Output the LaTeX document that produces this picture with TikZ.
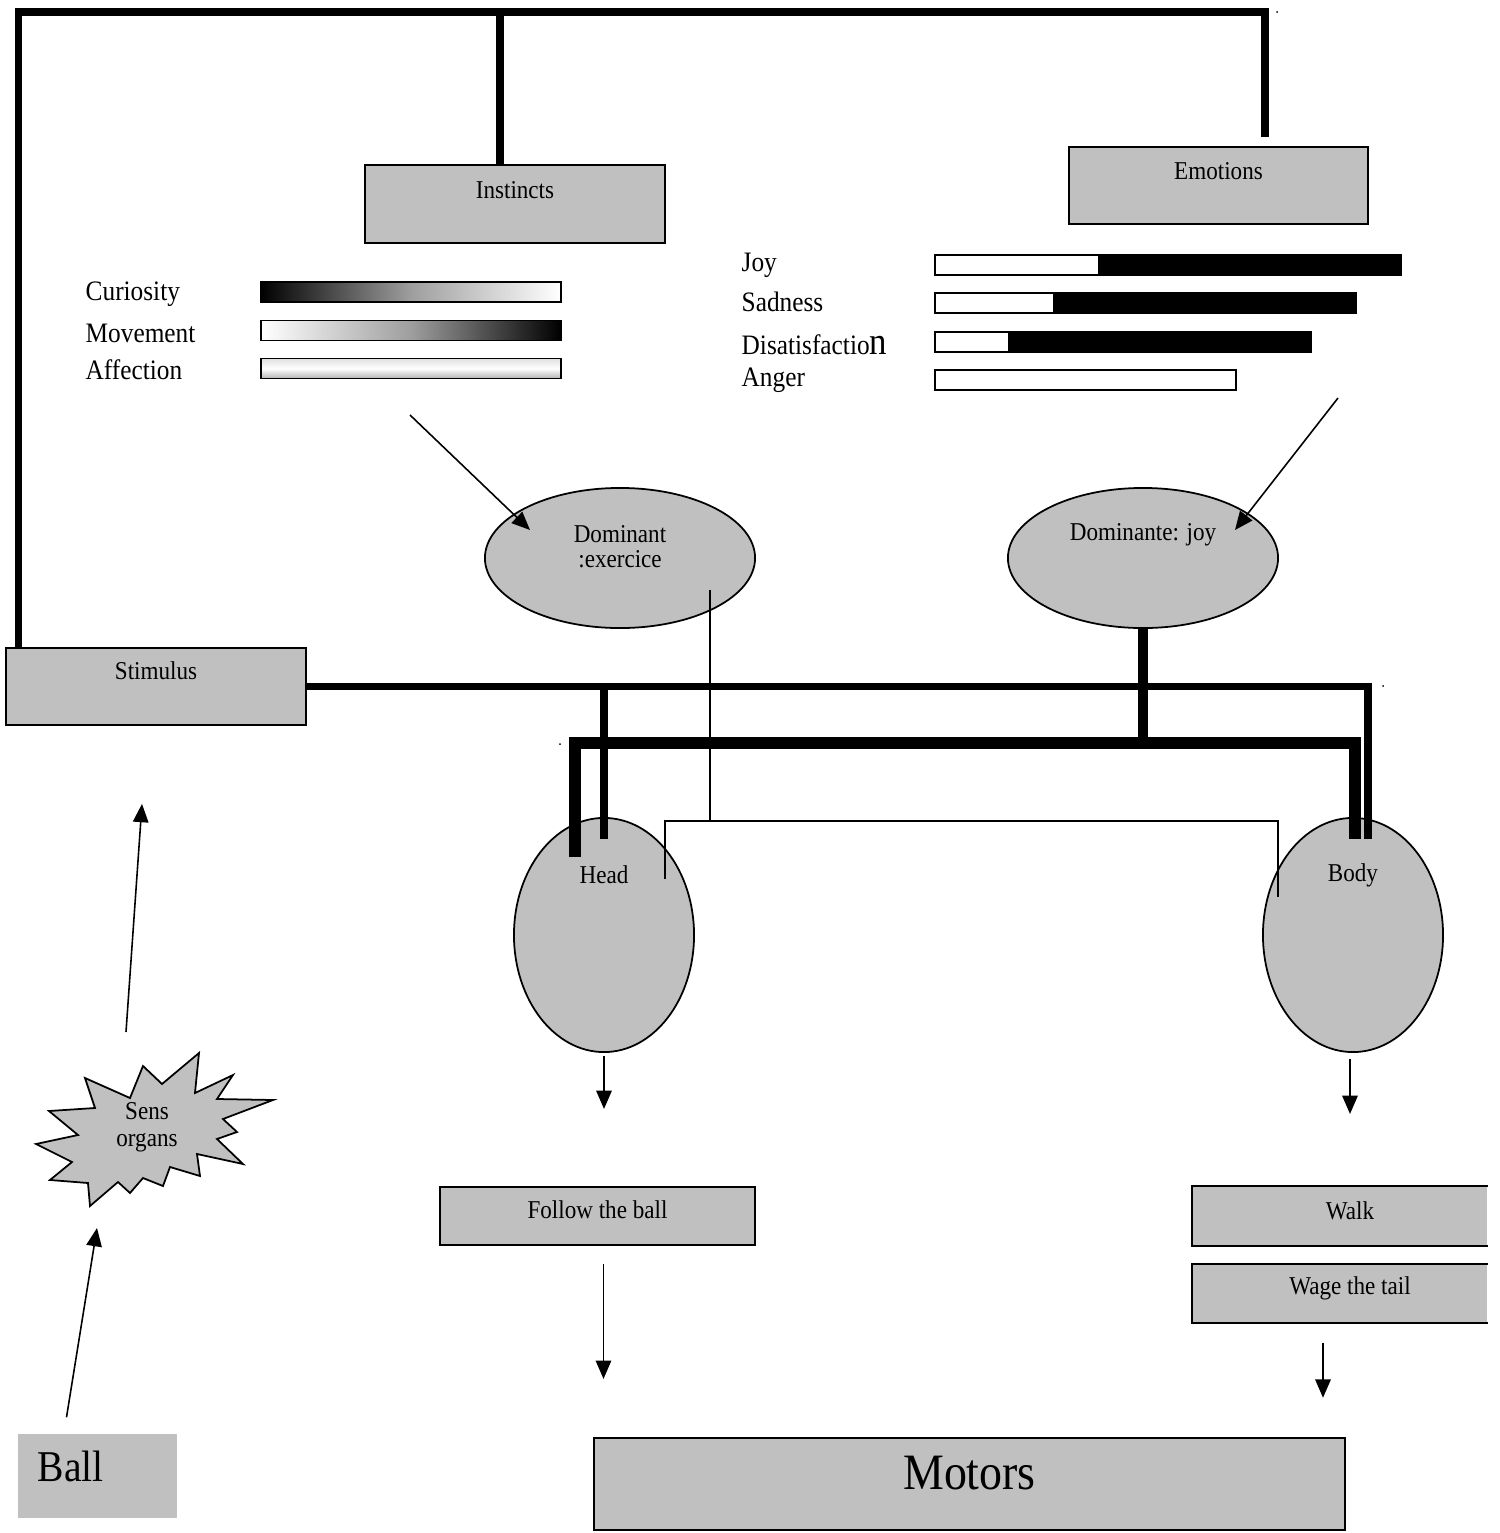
\documentclass[tikz,border=0pt]{standalone}
\usepackage{fontspec}
\setmainfont{Liberation Serif}[FakeStretch=0.9]
\usetikzlibrary{arrows.meta,calc,shapes.geometric}
\definecolor{boxgray}{HTML}{C0C0C0}
\tikzset{
  gbox/.style={draw=black, line width=0.5pt, fill=boxgray, inner sep=0pt},
  fbox/.style={fill=boxgray, inner sep=0pt},
  gell/.style={ellipse, draw=black, line width=0.5pt, fill=boxgray, inner sep=0pt},
  lbl/.style={inner sep=0pt, align=center, font=\fontsize{7.3}{7.2}\selectfont},
  side/.style={inner sep=0pt, anchor=west, font=\fontsize{8}{9}\selectfont},
  wire/.style={line width=2pt},
  wirebig/.style={line width=3.3pt},
  wiremid/.style={line width=2.8pt},
  thinline/.style={line width=0.45pt},
  arr/.style={line width=0.45pt, -{Triangle[length=5.2pt,width=4.4pt]}},
  barbox/.style={draw=black, line width=0.45pt, inner sep=0pt, minimum height=0.2cm, anchor=west},
}
\begin{document}
\begin{tikzpicture}[x=0.01cm, y=-0.01cm]
\useasboundingbox (0,0) rectangle (1499,1533);

% ---- boxes ----
\node[gbox, minimum width=3cm, minimum height=0.78cm] (inst) at (515,204) {};
\node[lbl] (instT) at (515,190) {Instincts};
\node[gbox, minimum width=2.99cm, minimum height=0.77cm] (emo) at (1218.5,185.5) {};
\node[lbl] (emoT) at (1218.5,171) {Emotions};
\node[gbox, minimum width=3cm, minimum height=0.77cm] (stim) at (156,686.5) {};
\node[lbl] (stimT) at (156,671) {Stimulus};
\node[gbox, minimum width=3.15cm, minimum height=0.58cm] (follow) at (597.5,1216) {};
\node[lbl] (followT) at (597.5,1210) {Follow the ball};
\node[fbox, minimum width=2.94cm, minimum height=0.58cm] (walk) at (1340,1216) {};
\draw[line width=0.5pt] (walk.north east) -- (walk.north west) -- (walk.south west) -- (walk.south east);
\node[lbl] (walkT) at (1350,1211) {Walk};
\node[fbox, minimum width=2.94cm, minimum height=0.57cm] (wage) at (1340,1293.5) {};
\draw[line width=0.5pt] (wage.north east) -- (wage.north west) -- (wage.south west) -- (wage.south east);
\node[lbl] (wageT) at (1350,1288) {Wage the tail};
\node[gbox, minimum width=7.51cm, minimum height=0.92cm] (motors) at (969.5,1484) {};
\node[inner sep=0pt, font=\fontsize{14.5}{16}\selectfont] (motorsT) at (969.5,1473) {Motors};
\node[fbox, minimum width=1.59cm, minimum height=0.84cm] (ball) at (97.5,1476) {};
\node[inner sep=0pt, anchor=west, font=\fontsize{12.5}{14}\selectfont] (ballT) at (37,1466) {Ball};

% ---- ellipses ----
\node[gell, minimum width=2.7cm, minimum height=1.4cm] (domx) at (620,558) {};
\node[lbl] (domxT) at (620,547) {Dominant\\:exercice};
\node[gell, minimum width=2.7cm, minimum height=1.4cm] (domj) at (1143,558) {};
\node[lbl] (domjT) at (1143,535) {Dominante: joy};
\node[gell, minimum width=1.8cm, minimum height=2.34cm] (head) at (604,935) {};
\node[lbl] (headT) at (604,875) {Head};
\node[gell, minimum width=1.8cm, minimum height=2.34cm] (body) at (1353,935) {};
\node[lbl] (bodyT) at (1353,875) {Body};

% ---- starburst ----
\draw[line width=0.5pt, fill=boxgray, line join=miter]
 (199,1053) -- (195,1093) -- (233,1075) -- (217,1099) -- (273,1100) -- (223,1119) --
 (237,1132) -- (217,1139) -- (243,1164) -- (197,1154) -- (200,1176) -- (170,1167) --
 (163,1186) -- (143,1178) -- (130,1193) -- (118,1182) -- (90,1206) -- (88,1183) --
 (50,1180) -- (72,1162) -- (36,1144) -- (78,1135) -- (49,1111) -- (95,1108) --
 (85,1078) -- (130,1098) -- (143,1066) -- (162,1084) -- cycle;
\node[lbl, font=\fontsize{7.3}{7.8}\selectfont] (sens) at (147,1127) {Sens\\organs};

% ---- instinct bars ----
\node[side] (lcur) at (85,294) {Curiosity};
\node[side] (lmov) at (85,333) {Movement};
\node[side] (laff) at (85,370) {Affection};
\node[barbox, minimum width=3cm, left color=black, right color=white, middle color=black!38] (bcur) at (260,292) {};
\node[barbox, minimum width=3cm, left color=white, right color=black, middle color=black!38] (bmov) at (260,330.5) {};
\node[barbox, minimum width=3cm, top color=black!12, bottom color=black!30, middle color=white] (baff) at (260,368.5) {};

% ---- emotion bars ----
\node[side] (ljoy) at (741,265) {Joy};
\node[side] (lsad) at (741,302) {Sadness};
\node[side] (ldis) at (741,345) {Disatisfactio{\fontsize{11}{12}\selectfont n}};
\node[side] (lang) at (741,380) {Anger};
\node[barbox, minimum width=4.66cm, fill=white] (bjoy) at (934,265) {};
\fill (1098,255) rectangle (bjoy.north east |- 0,275);
\node[barbox, minimum width=4.21cm, fill=white] (bsad) at (934,303) {};
\fill (1053,293) rectangle (bsad.north east |- 0,313);
\node[barbox, minimum width=3.76cm, fill=white] (bdis) at (934,342) {};
\fill (1008,332) rectangle (bdis.north east |- 0,352);
\node[barbox, minimum width=3.01cm, fill=white] (bang) at (934,380) {};

% ---- thick frame wires ----
\coordinate (frameTR) at (1265,12);
\coordinate (emoEnd) at (1265,137);
\draw[wire, line join=miter] ($(stim.north west)+(13,0)$) |- (frameTR) -- (emoEnd);
\draw[wire] ($(inst.north)+(-15,0)$) -- ($(inst.north)+(-15,-153)$);

\draw[wire, line join=miter] (stim.east) -| ($(body.north)+(15,22)$);
\draw[wire] (head.north |- stim.east) -- ($(head.north)+(0,22)$);
\draw[wiremid] (domj.south) -- ($(domj.south)+(0,116)$);
\draw[wirebig, line join=miter] ($(head.north)+(-29,40)$) |- ($(body.north)+(2,-74)$) -- ($(body.north)+(2,22)$);

% ---- thin wires ----
\draw[thinline] ($(domx.center)+(90,32)$) -- ($(domx.center)+(90,264)$);
\draw[thinline] ($(head.north)+(61,62)$) |- ($(body.north)+(-75,4)$) -- ($(body.north)+(-75,80)$);

% ---- arrows ----
\coordinate (instArr) at (410,415);
\coordinate (emoArr) at (1338,398);
\draw[arr] (instArr) -- ($(domx.center)+(-90,-28)$);
\draw[arr] (emoArr) -- ($(domj.center)+(92,-28)$);
\draw[arr] ($(head.south)+(0,3)$) -- ($(head.south)+(0,56)$);
\draw[arr] ($(body.south)+(-3,6)$) -- ($(body.south)+(-3,61)$);
\draw[arr] ($(follow.south)+(6,18)$) -- ($(follow.south)+(6,133)$);
\draw[arr] ($(wage.south)+(-17,20)$) -- ($(wage.south)+(-17,75)$);
\draw[arr] ($(ball.north)+(-31,-16)$) -- ($(sens)+(-50,101)$);
\draw[arr] ($(sens)+(-21,-95)$) -- ($(stim.south)+(-14,78)$);

% ---- stray dots ----
\fill (1277,12) circle (1);
\fill (1383,686) circle (1);
\fill (560,744) circle (1);
\end{tikzpicture}
\end{document}
